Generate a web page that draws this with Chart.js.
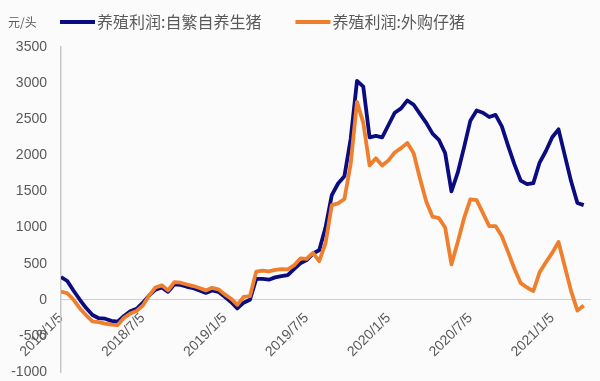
<!DOCTYPE html>
<html>
<head>
<meta charset="utf-8">
<script src="https://cdn.jsdelivr.net/npm/chart.js@4.4.0/dist/chart.umd.min.js"></script>
<style>
  html, body { margin: 0; padding: 0; background: #fbfbfb; }
  #wrap { width: 600px; height: 381px; }
</style>
</head>
<body>
<div id="wrap"><canvas id="myChart"></canvas></div>
<script>
// tick labels every 26 weeks, data sampled every 2 weeks
const tickLabels = ['2018/1/5', '2018/7/5', '2019/1/5', '2019/7/5', '2020/1/5', '2020/7/5', '2021/1/5'];
const seriesNames = ['养殖利润:自繁自养生猪', '养殖利润:外购仔猪'];
const unitLabel = '元/头';

const selfBred = [
  315, 260, 125, 0, -115, -210, -255, -262, -292, -303,
  -225, -160, -125, -40, 60, 140, 170, 110, 215, 205,
  180, 160, 130, 95, 130, 110, 40, -30, -120, -40,
  0, 290, 290, 278, 310, 328, 340, 425, 505, 550,
  640, 685, 1000, 1450, 1610, 1710, 2230, 3030, 2950, 2250,
  2270, 2250, 2420, 2590, 2650, 2760, 2700, 2575, 2450, 2300,
  2215, 2030, 1500, 1760, 2110, 2480, 2620, 2590, 2530, 2560,
  2400, 2130, 1875, 1650, 1600, 1615, 1900, 2060, 2250, 2360,
  2000, 1640, 1340, 1310
];
const boughtPiglets = [
  115, 90, 0, -120, -215, -300, -310, -330, -345, -350,
  -250, -190, -155, -80, 60, 170, 200, 130, 245, 236,
  212, 190, 163, 130, 165, 145, 75, 15, -70, 40,
  50, 390, 404, 392, 413, 425, 420, 475, 572, 565,
  650, 535, 780, 1310, 1335, 1395, 1880, 2740, 2450, 1860,
  1960, 1860, 1930, 2040, 2100, 2170, 2030, 1680, 1360, 1150,
  1130, 1000, 490, 800, 1130, 1390, 1380, 1200, 1020, 1020,
  880, 660, 430, 230, 170, 120, 380, 520, 650, 800,
  460, 120, -150, -80
];

const blue = '#0a0c80';
const orange = '#ef7f2c';

Chart.defaults.font.family = '"Liberation Sans", Arial, sans-serif';

const toPoints = arr => arr.map((v, i) => ({ x: i, y: v }));

// legend line + unit label drawn at top
const topText = {
  id: 'topText',
  afterDraw(chart) {
    const ctx = chart.ctx;
    ctx.save();
    ctx.fillStyle = '#5a5a5a';
    ctx.textBaseline = 'middle';
    ctx.font = '12px "Noto Sans CJK SC"';
    ctx.fillText(unitLabel, 8, 22);
    ctx.font = '16px "Noto Sans CJK SC"';
    let x = 60;
    chart.data.datasets.forEach(ds => {
      ctx.strokeStyle = ds.borderColor;
      ctx.lineWidth = 4;
      ctx.beginPath();
      ctx.moveTo(x, 22);
      ctx.lineTo(x + 35, 22);
      ctx.stroke();
      ctx.fillText(ds.label, x + 37, 22);
      x += 37 + ctx.measureText(ds.label).width + 34;
    });
    ctx.restore();
  }
};

const ctx = document.getElementById('myChart').getContext('2d');
const myChart = new Chart(ctx, {
  type: 'line',
  data: {
    datasets: [{
      label: seriesNames[0],
      data: toPoints(selfBred),
      borderColor: blue,
      backgroundColor: blue,
      borderWidth: 3.8,
      pointRadius: 0,
      tension: 0,
      borderJoinStyle: 'round',
      order: 1
    }, {
      label: seriesNames[1],
      data: toPoints(boughtPiglets),
      borderColor: orange,
      backgroundColor: orange,
      borderWidth: 3.8,
      pointRadius: 0,
      tension: 0,
      borderJoinStyle: 'round',
      order: 0
    }]
  },
  options: {
    responsive: true,
    maintainAspectRatio: false,
    animation: false,
    layout: { padding: { left: 8, right: 10, top: 47, bottom: 9 } },
    plugins: {
      legend: { display: false },
      tooltip: { enabled: false }
    },
    scales: {
      x: {
        type: 'linear',
        position: { y: 0 },
        min: 0,
        max: 84,
        afterFit: s => { s.height = 0; },
        afterBuildTicks: s => {
          s.ticks = s.ticks.filter(t => t.value % 13 === 0 && t.value <= 78);
        },
        ticks: {
          stepSize: 13,
          autoSkip: false,
          maxRotation: 45,
          minRotation: 45,
          padding: 2,
          color: '#595959',
          font: { size: 14 },
          callback: v => tickLabels[v / 13] || ''
        },
        grid: { display: false },
        border: { color: '#cfcfcf', width: 1 }
      },
      y: {
        min: -1000,
        max: 3500,
        afterFit: s => { s.width = 53; },
        ticks: {
          stepSize: 500,
          padding: 0,
          autoSkip: false,
          color: '#595959',
          font: { size: 14 },
          callback: v => String(v)
        },
        grid: { display: false, tickLength: 14 },
        border: { color: '#c8c8c8', width: 1.5 }
      }
    }
  },
  plugins: [topText]
});
</script>
</body>
</html>
